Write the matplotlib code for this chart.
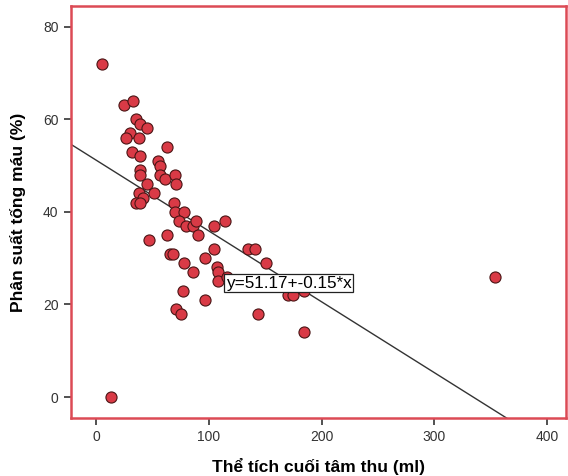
import matplotlib
matplotlib.use("Agg")
import matplotlib.pyplot as plt

# end-systolic volume (ml) vs ejection fraction (%)
esv_ml = [5, 13, 25, 33, 35, 39, 45, 30, 27, 38, 63, 32, 39, 55, 57, 39, 39, 57,
          61, 70, 71, 45, 51, 38, 42, 35, 39, 69, 70, 78, 74, 80, 86, 89, 90, 105,
          114, 47, 63, 105, 66, 68, 78, 97, 135, 141, 151, 86, 107, 108, 108, 116,
          77, 97, 71, 75, 144, 184, 170, 175, 184, 354]
ef_pct = [72, 0, 63, 64, 60, 59, 58, 57, 56, 56, 54, 53, 52, 51, 50, 49, 48, 48,
          47, 48, 46, 46, 44, 44, 43, 42, 42, 42, 40, 40, 38, 37, 37, 38, 35, 37,
          38, 34, 35, 32, 31, 31, 29, 30, 32, 32, 29, 27, 28, 27, 25, 26,
          23, 21, 19, 18, 18, 14, 22, 22, 23, 26]

fit_intercept = 51.17
fit_slope = -0.153
fit_label = "y=51.17+-0.15*x"

x_ticks = [0, 100, 200, 300, 400]
y_ticks = [0, 20, 40, 60, 80]

plt.rcParams["font.family"] = ["Liberation Sans", "DejaVu Sans"]

fig = plt.figure(figsize=(5.68, 4.76), dpi=100)
ax = fig.add_axes([0.125, 0.122, 0.8715, 0.865])

xmin, xmax = -22.2, 416.7
ymin, ymax = -4.5, 84.4

ax.plot([xmin, xmax], [fit_intercept + fit_slope * xmin, fit_intercept + fit_slope * xmax],
        color="#333333", lw=1.0, zorder=2)
ax.scatter(esv_ml, ef_pct, s=64, facecolor="#d93a46", edgecolor="#4a1515",
           linewidth=0.8, zorder=3)

ax.text(115, 24.6, fit_label, fontsize=12.3, va="center", ha="left", zorder=4,
        bbox=dict(boxstyle="square,pad=0.08", facecolor="white", edgecolor="#222222", lw=0.9))

ax.set_xlim(xmin, xmax)
ax.set_ylim(ymin, ymax)
ax.set_xticks(x_ticks)
ax.set_yticks(y_ticks)
ax.tick_params(direction="out", length=5, width=1.2, color="#333333",
               labelsize=10, labelcolor="#333333", pad=4)

for sp in ax.spines.values():
    sp.set_color("#dc4a55")
    sp.set_linewidth(1.8)

ax.set_xlabel("Thể tích cuối tâm thu (ml)", fontsize=12.5, fontweight="bold", labelpad=10)
ax.set_ylabel("Phân suất tống máu (%)", fontsize=12.5, fontweight="bold", labelpad=12)

fig.savefig("out.png", dpi=100)
